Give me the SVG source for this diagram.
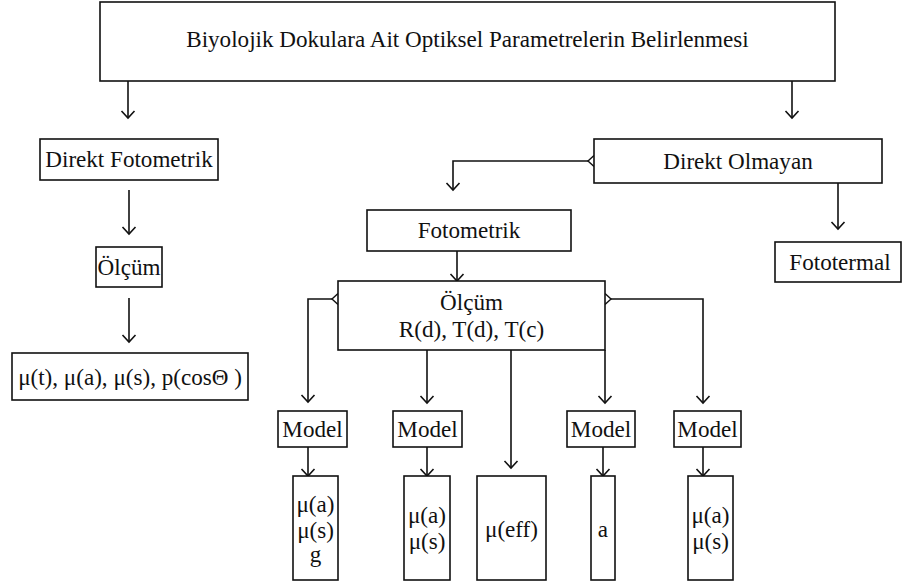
<svg xmlns="http://www.w3.org/2000/svg" width="903" height="583" viewBox="0 0 903 583">
  <style>
    .box { fill: #fff; stroke: #111; stroke-width: 1.6; }
    .lbl { font-family: "Liberation Serif", "Times New Roman", serif; font-size: 23.1px; fill: #111; text-anchor: middle; }
    .wire { fill: none; stroke: #111; stroke-width: 1.6; }
  </style>
  <defs>
    <marker id="head" markerUnits="userSpaceOnUse" markerWidth="16" markerHeight="16" viewBox="-8 -8 16 16" refX="0" refY="0" orient="auto">
      <path d="M -7 -6.5 L 0 0 L -7 6.5" fill="none" stroke="#111" stroke-width="1.6"/>
    </marker>
    <marker id="tail" markerUnits="userSpaceOnUse" markerWidth="16" markerHeight="16" viewBox="-8 -8 16 16" refX="0" refY="0" orient="auto">
      <path d="M -6 -5.5 L 0 0 L -6 5.5" fill="none" stroke="#111" stroke-width="1.4"/>
    </marker>
  </defs>

  <g id="connectors">
    <!-- from the title -->
    <path class="wire" d="M 128 81 V 118" marker-end="url(#head)"/>
    <path class="wire" d="M 792 81 V 118" marker-end="url(#head)"/>
    <!-- direct branch -->
    <path class="wire" d="M 129 190 V 234" marker-end="url(#head)"/>
    <path class="wire" d="M 129 298 V 342" marker-end="url(#head)"/>
    <!-- indirect branch -->
    <path class="wire" d="M 588 161 H 453 V 190" marker-start="url(#tail)" marker-end="url(#head)"/>
    <path class="wire" d="M 838 183 V 229" marker-end="url(#head)"/>
    <path class="wire" d="M 457 251 V 281" marker-end="url(#head)"/>
    <!-- from the measurement box -->
    <path class="wire" d="M 332 299 H 308 V 402" marker-start="url(#tail)" marker-end="url(#head)"/>
    <path class="wire" d="M 427 350 V 403" marker-end="url(#head)"/>
    <path class="wire" d="M 511 350 V 468" marker-end="url(#head)"/>
    <path class="wire" d="M 605 350 V 403" marker-end="url(#head)"/>
    <path class="wire" d="M 611 299 H 703 V 403" marker-start="url(#tail)" marker-end="url(#head)"/>
    <!-- model to result -->
    <path class="wire" d="M 308 447 V 476" marker-end="url(#head)"/>
    <path class="wire" d="M 427 447 V 476" marker-end="url(#head)"/>
    <path class="wire" d="M 603 447 V 476" marker-end="url(#head)"/>
    <path class="wire" d="M 703 447 V 476" marker-end="url(#head)"/>
  </g>

  <g id="title">
    <rect class="box" x="100" y="2" width="735" height="79"/>
    <text class="lbl" x="467.5" y="47">Biyolojik Dokulara Ait Optiksel Parametrelerin Belirlenmesi</text>
  </g>

  <g id="direkt-fotometrik">
    <rect class="box" x="40" y="139" width="178" height="41"/>
    <text class="lbl" x="129" y="167">Direkt Fotometrik</text>
  </g>
  <g id="olcum-direkt">
    <rect class="box" x="96" y="247" width="66" height="40"/>
    <text class="lbl" x="129" y="275">Ölçüm</text>
  </g>
  <g id="sonuc-direkt">
    <rect class="box" x="12" y="353" width="236" height="47"/>
    <text class="lbl" x="130" y="385">μ(t), μ(a), μ(s), p(cosΘ )</text>
  </g>

  <g id="direkt-olmayan">
    <rect class="box" x="594" y="139" width="288" height="44"/>
    <text class="lbl" x="738" y="169">Direkt Olmayan</text>
  </g>
  <g id="fototermal">
    <rect class="box" x="775" y="242" width="126" height="40"/>
    <text class="lbl" x="840" y="270">Fototermal</text>
  </g>
  <g id="fotometrik">
    <rect class="box" x="367" y="210" width="204" height="41"/>
    <text class="lbl" x="469" y="238">Fotometrik</text>
  </g>
  <g id="olcum">
    <rect class="box" x="338" y="281" width="267" height="69"/>
    <text class="lbl" x="471.5" y="310">Ölçüm</text>
    <text class="lbl" x="471.5" y="337">R(d), T(d), T(c)</text>
  </g>

  <g id="model-1">
    <rect class="box" x="278" y="411" width="69" height="36"/>
    <text class="lbl" x="312.5" y="437">Model</text>
  </g>
  <g id="model-2">
    <rect class="box" x="393" y="411" width="69" height="36"/>
    <text class="lbl" x="427.5" y="437">Model</text>
  </g>
  <g id="model-3">
    <rect class="box" x="567" y="411" width="68" height="36"/>
    <text class="lbl" x="601" y="437">Model</text>
  </g>
  <g id="model-4">
    <rect class="box" x="674" y="411" width="67" height="36"/>
    <text class="lbl" x="707.5" y="437">Model</text>
  </g>

  <g id="sonuc-1">
    <rect class="box" x="293" y="476" width="45" height="104"/>
    <text class="lbl" x="315.5" y="512">μ(a)</text>
    <text class="lbl" x="315.5" y="538">μ(s)</text>
    <text class="lbl" x="315.5" y="562">g</text>
  </g>
  <g id="sonuc-2">
    <rect class="box" x="404" y="476" width="46" height="104"/>
    <text class="lbl" x="427" y="523">μ(a)</text>
    <text class="lbl" x="427" y="549">μ(s)</text>
  </g>
  <g id="sonuc-3">
    <rect class="box" x="477" y="476" width="69" height="104"/>
    <text class="lbl" x="511.5" y="537">μ(eff)</text>
  </g>
  <g id="sonuc-4">
    <rect class="box" x="591" y="476" width="24" height="104"/>
    <text class="lbl" x="603" y="537">a</text>
  </g>
  <g id="sonuc-5">
    <rect class="box" x="688" y="476" width="45" height="104"/>
    <text class="lbl" x="710.5" y="523">μ(a)</text>
    <text class="lbl" x="710.5" y="549">μ(s)</text>
  </g>
</svg>
